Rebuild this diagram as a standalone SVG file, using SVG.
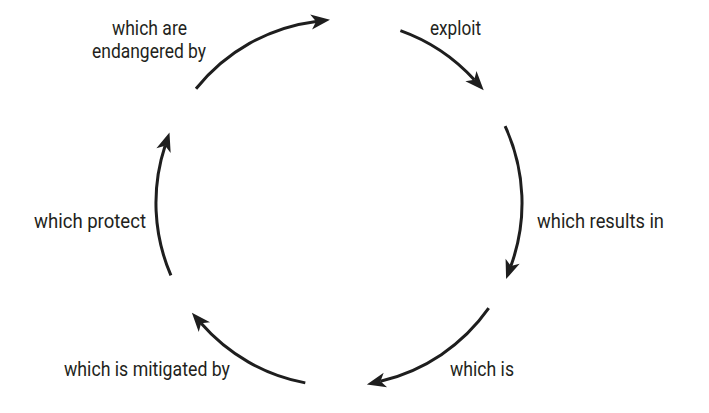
<svg xmlns="http://www.w3.org/2000/svg" width="709" height="413" viewBox="0 0 709 413">
<style>
.arc{fill:none;stroke:#1e1e1e;stroke-width:3;marker-end:url(#ah)}
.lbl{font-family:Roboto,"Liberation Sans",sans-serif;font-size:21px;fill:#231f20}
</style>
<defs>
<marker id="ah" markerUnits="userSpaceOnUse" orient="auto" markerWidth="40" markerHeight="40" refX="0" refY="0" viewBox="-20 -20 40 40" overflow="visible">
<path d="M14,0 L-5,-7.5 L0,0 L-5,7.5 Z" fill="#1e1e1e"/>
</marker>
</defs>
<rect width="709" height="413" fill="#ffffff"/>
<g id="connectors">
<path id="c1" class="arc" d="M196,88.8 A183 183 0 0 1 316.1,21.4"/>
<path id="c2" class="arc" d="M400.4,30.6 A183 183 0 0 1 474.3,79.8"/>
<path id="c3" class="arc" d="M505.1,126.2 A183 183 0 0 1 510.9,265.9"/>
<path id="c4" class="arc" d="M488.7,308.2 A183 183 0 0 1 380.5,381.2"/>
<path id="c5" class="arc" d="M305.3,382.9 A183 183 0 0 1 201.1,323.3"/>
<path id="c6" class="arc" d="M170.9,275.4 A183 183 0 0 1 165.1,145.8"/>
</g>
<g id="labels">
<g id="l1"><text class="lbl" x="112" y="35" textLength="75" lengthAdjust="spacingAndGlyphs">which are</text><text class="lbl" x="92" y="58" textLength="114" lengthAdjust="spacingAndGlyphs">endangered by</text></g>
<g id="l2"><text class="lbl" x="430" y="35" textLength="51" lengthAdjust="spacingAndGlyphs">exploit</text></g>
<g id="l3"><text class="lbl" x="537" y="228" textLength="127" lengthAdjust="spacingAndGlyphs">which results in</text></g>
<g id="l4"><text class="lbl" x="450" y="376" textLength="64" lengthAdjust="spacingAndGlyphs">which is</text></g>
<g id="l5"><text class="lbl" x="64" y="376" textLength="166" lengthAdjust="spacingAndGlyphs">which is mitigated by</text></g>
<g id="l6"><text class="lbl" x="34" y="228" textLength="112" lengthAdjust="spacingAndGlyphs">which protect</text></g>
</g>
</svg>
